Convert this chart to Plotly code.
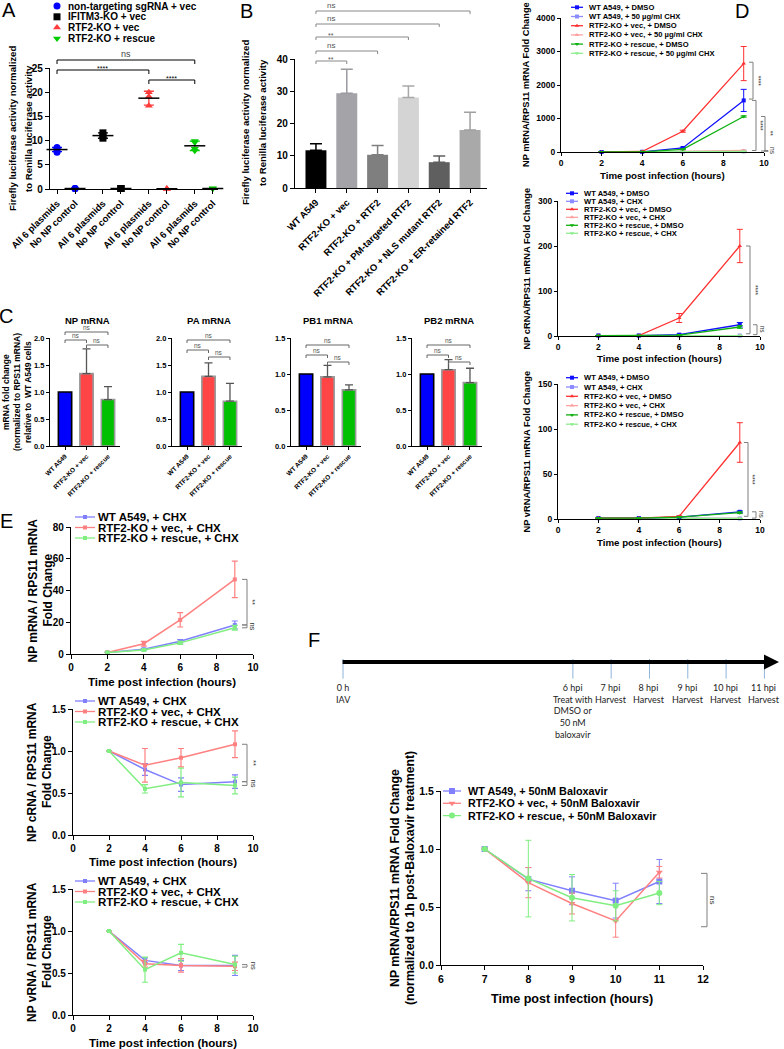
import numpy as np
import plotly.graph_objects as go

W, H = 784, 1049
FONT = "Arial, Liberation Sans, sans-serif"

# ======================= DATA =======================
# ---- Panel A ----
a_groups = ["non-targeting sgRNA + vec", "IFITM3-KO + vec", "RTF2-KO + vec", "RTF2-KO + rescue"]
a_conditions = ["All 6 plasmids", "No NP control"]
a_all6 = [[7.6, 8.1, 8.3, 8.6], [10.5, 11.0, 11.6], [17.2, 19.1, 20.0], [7.9, 8.3, 9.6, 9.9]]
a_nonp = [[0.1, 0.1, 0.1], [0.1, 0.1, 0.1], [0.05, 0.05, 0.05], [0.1, 0.1, 0.1]]
a_sig = [(0, 3, "ns"), (0, 2, "****"), (2, 3, "****")]

# ---- Panel B ----
b_labels = ["WT A549", "RTF2-KO + vec", "RTF2-KO + RTF2", "RTF2-KO + PM-targeted RTF2",
            "RTF2-KO + NLS mutant RTF2", "RTF2-KO + ER-retained RTF2"]
b_means = [11.7, 29.4, 10.3, 28.1, 8.0, 18.0]
b_sd = [2.0, 7.4, 2.9, 3.5, 1.9, 5.5]
b_sig = ["**", "ns", "**", "ns", "ns"]

# ---- Panel C ----
c_titles = ["NP mRNA", "PA mRNA", "PB1 mRNA", "PB2 mRNA"]
c_groups = ["WT A549", "RTF2-KO + vec", "RTF2-KO + rescue"]
c_means = [[1.0, 1.34, 0.86], [1.0, 1.29, 0.83], [1.0, 0.96, 0.78], [1.0, 1.06, 0.88]]
c_sd = [[0, 0.46, 0.24], [0, 0.25, 0.33], [0, 0.16, 0.07], [0, 0.14, 0.20]]
c_ymax = [2.0, 2.0, 1.5, 1.5]
c_sig = ["ns", "ns", "ns"]

# ---- Panel D ----
d_time = [2, 4, 6, 9]
d_legend_top = ["WT A549, + DMSO", "WT A549, + 50 µg/ml CHX", "RTF2-KO + vec, + DMSO",
                "RTF2-KO + vec, + 50 µg/ml CHX", "RTF2-KO + rescue, + DMSO", "RTF2-KO + rescue, + 50 µg/ml CHX"]
d_legend = ["WT A549, + DMSO", "WT A549, + CHX", "RTF2-KO + vec, + DMSO",
            "RTF2-KO + vec, + CHX", "RTF2-KO + rescue, + DMSO", "RTF2-KO + rescue, + CHX"]
d_mrna = [[1, 5, 120, 1540], [1, 2, 8, 20], [1, 15, 620, 2640], [1, 3, 20, 45], [1, 4, 80, 1060], [1, 2, 6, 15]]
d_mrna_err = [[0, 0, 25, 330], [0, 0, 0, 5], [0, 0, 30, 510], [0, 0, 0, 10], [0, 0, 10, 20], [0, 0, 0, 5]]
d_crna = [[1, 1, 3, 25], [1, 1, 1, 1], [1, 1, 40, 200], [1, 1, 1, 1], [1, 1, 2, 20], [1, 1, 1, 1]]
d_crna_err = [[0, 0, 1, 5], [0, 0, 0, 0], [0, 0, 10, 37], [0, 0, 0, 0], [0, 0, 1, 3], [0, 0, 0, 0]]
d_vrna = [[1, 1, 2, 8], [1, 1, 1, 0.6], [1, 1, 3, 85], [1, 1, 1, 0.6], [1, 1, 2, 7], [1, 1, 1, 0.6]]
d_vrna_err = [[0, 0, 0.5, 1], [0, 0, 0, 0], [0, 0, 0.5, 22], [0, 0, 0, 0], [0, 0, 0.5, 1], [0, 0, 0, 0]]
d_ytitles = ["NP mRNA/RPS11 mRNA Fold Change", "NP cRNA/RPS11 mRNA Fold Change", "NP vRNA/RPS11 mRNA Fold Change"]
d_ymax = [4000, 300, 150]
d_dtick = [1000, 100, 50]
d_sig = [[(2680, 1580, "****"), (1540, 45, "****"), (1060, 30, "**"), (45, 10, "ns")],
         [(200, 5, "****"), (25, 3, "ns")],
         [(85, 3, "****"), (8, 1, "ns")]]

# ---- Panel E ----
e_time = [2, 4, 6, 9]
e_legend = ["WT A549, + CHX", "RTF2-KO + vec, + CHX", "RTF2-KO + rescue, + CHX"]
e_mrna = [[1, 3, 8, 18.3], [1, 6.5, 21.5, 47], [1, 2.5, 7, 16.5]]
e_mrna_err = [[0, 0.5, 1, 2.5], [0, 1.5, 4.5, 11.5], [0, 0.5, 1, 1.5]]
e_crna = [[1.0, 0.78, 0.60, 0.635], [1.0, 0.83, 0.92, 1.08], [1.0, 0.55, 0.625, 0.59]]
e_crna_err = [[0, 0.07, 0.08, 0.08], [0, 0.20, 0.11, 0.16], [0, 0.05, 0.17, 0.10]]
e_vrna = [[1.0, 0.65, 0.59, 0.59], [1.0, 0.61, 0.59, 0.58], [1.0, 0.54, 0.74, 0.60]]
e_vrna_err = [[0, 0.03, 0.06, 0.12], [0, 0.04, 0.08, 0.05], [0, 0.15, 0.10, 0.10]]
e_ytitles = ["NP mRNA / RPS11 mRNA", "NP cRNA / RPS11 mRNA", "NP vRNA / RPS11 mRNA"]
e_ymax = [80, 1.5, 1.5]
e_dtick = [20, 0.5, 0.5]
e_sig = [[(47, 18.3, "**"), (18.3, 16.5, "ns")],
         [(1.08, 0.635, "**"), (0.635, 0.59, "ns")],
         [(0.60, 0.57, "ns")]]

# ---- Panel F ----
f_time = [7, 8, 9, 10, 11]
f_legend = ["WT A549, + 50nM Baloxavir", "RTF2-KO + vec, + 50nM Baloxavir", "RTF2-KO + rescue, + 50nM Baloxavir"]
f_vals = [[1.0, 0.74, 0.64, 0.555, 0.72], [1.0, 0.71, 0.53, 0.38, 0.80], [1.0, 0.745, 0.58, 0.51, 0.62]]
f_err = [[0, 0.10, 0.12, 0.15, 0.19], [0, 0.13, 0.09, 0.14, 0.05], [0, 0.33, 0.20, 0.13, 0.10]]
f_sig = [(0.79, 0.33, "ns")]
timeline_hours = [0, 6, 7, 8, 9, 10, 11]
timeline_text = ["0 h<br>IAV", "6 hpi<br>Treat with<br>DMSO or<br>50 nM<br>baloxavir",
                 "7 hpi<br>Harvest", "8 hpi<br>Harvest", "9 hpi<br>Harvest", "10 hpi<br>Harvest", "11 hpi<br>Harvest"]

# ======================= LAYOUT HELPERS =======================
fig = go.Figure()
layout = {}
shapes = []
annotations = []


def P(x):
    return x / W


def Q(y):
    return 1 - y / H


def tf(size, bold=True, color="black"):
    d = dict(family=FONT, size=size, color=color)
    if bold:
        d["weight"] = "bold"
    return d


def add_axes(n, xpx, ypx, xrange, yrange, xkw=None, ykw=None):
    s = "" if n == 1 else str(n)
    base = dict(showline=True, linecolor="black", linewidth=1.3, ticks="outside", ticklen=4,
                tickwidth=1.3, tickcolor="black", showgrid=False, zeroline=False, fixedrange=True,
                automargin=False)
    xa = dict(base, domain=[P(xpx[0]), P(xpx[1])], range=xrange, anchor="y" + s)
    ya = dict(base, domain=[Q(ypx[1]), Q(ypx[0])], range=yrange, anchor="x" + s)
    xa.update(xkw or {})
    ya.update(ykw or {})
    layout["xaxis" + s] = xa
    layout["yaxis" + s] = ya
    return "x" + s, "y" + s


def text(x, y, t, size, bold=True, angle=0, xanchor="center", color="black", family=FONT, yanchor="middle"):
    f = dict(family=family, size=size, color=color)
    if bold:
        f["weight"] = "bold"
    annotations.append(dict(xref="x20", yref="y20", x=x, y=y, text=t, showarrow=False, textangle=angle,
                            xanchor=xanchor, yanchor=yanchor, font=f))


def hbracket(xref, x0, x1, ypx, label, color="black", drop=4, fsize=8, lx=None, lcolor="#333", lift=0):
    y = Q(ypx)
    yd = Q(ypx + drop)
    shapes.append(dict(type="path", xref=xref, yref="paper",
                       path=f"M{x0},{yd}L{x0},{y}L{x1},{y}L{x1},{yd}", line=dict(color=color, width=1)))
    annotations.append(dict(xref=xref, yref="paper", x=(x0 + x1) / 2 if lx is None else lx, y=Q(ypx - lift),
                            yanchor="bottom", text=label, showarrow=False, borderpad=0,
                            font=dict(family=FONT, size=fsize, color=lcolor)))


def vbracket(xpx, yref, y_hi, y_lo, label, color="#808080", arm=4, fsize=7, loff=5):
    x1 = P(xpx)
    x0 = P(xpx - arm)
    shapes.append(dict(type="path", xref="paper", yref=yref,
                       path=f"M{x0},{y_hi}L{x1},{y_hi}L{x1},{y_lo}L{x0},{y_lo}", line=dict(color=color, width=1)))
    annotations.append(dict(xref="paper", yref=yref, x=P(xpx + loff), y=(y_hi + y_lo) / 2, text=label,
                            textangle=90, showarrow=False, xanchor="center", yanchor="middle",
                            font=dict(family=FONT, size=fsize, color="#333")))


def legend_block(xkey, xtext, y0, dy, labels, colors, symbols, fsize, half=None, msize=5):
    for i, (lab, col, sym) in enumerate(zip(labels, colors, symbols)):
        yy = y0 + i * dy
        if half:
            fig.add_trace(go.Scatter(x=[xkey - half, xkey + half], y=[yy, yy], mode="lines",
                                     line=dict(color=col, width=1.3), xaxis="x20", yaxis="y20",
                                     showlegend=False, hoverinfo="skip", cliponaxis=False))
        fig.add_trace(go.Scatter(x=[xkey], y=[yy], mode="markers", marker=dict(symbol=sym, size=msize, color=col),
                                 xaxis="x20", yaxis="y20", showlegend=False, hoverinfo="skip", cliponaxis=False))
        text(xtext, yy, lab, fsize, xanchor="left")


def nz(arr):
    return [v if v > 0 else None for v in arr]


# ======================= PANEL A =======================
a_colors = ["#0000ff", "#000000", "#ff3b3b", "#00cc00"]
a_symbols = ["circle", "square", "triangle-up", "triangle-down"]
a_step = 2.55
a_pos = []
for g in range(len(a_groups)):
    a_pos += [g * a_step, g * a_step + 1]
ax, ay = add_axes(1, (50, 218), (68, 189), [-0.39, 8.94], [0, 25],
                  xkw=dict(tickvals=a_pos, ticktext=a_conditions * len(a_groups), tickangle=-45, tickfont=tf(9.5)),
                  ykw=dict(tickvals=[0, 5, 10, 15, 20, 25], tickfont=tf(10)))
for g in range(len(a_groups)):
    for c, vals in enumerate([a_all6[g], a_nonp[g]]):
        xp = a_pos[2 * g + c]
        fig.add_trace(go.Scatter(x=[xp] * len(vals), y=vals, mode="markers",
                                 marker=dict(symbol=a_symbols[g], size=7, color=a_colors[g]),
                                 xaxis=ax, yaxis=ay, showlegend=False, cliponaxis=False, hoverinfo="skip"))
        m, sd = float(np.mean(vals)), float(np.std(vals, ddof=1))
        fig.add_trace(go.Scatter(x=[xp], y=[m], mode="markers",
                                 marker=dict(symbol="line-ew", size=15, line=dict(color="black", width=1.5)),
                                 error_y=dict(type="data", array=[sd], color=a_colors[g], thickness=1.3, width=5,
                                              visible=sd > 0.05),
                                 xaxis=ax, yaxis=ay, showlegend=False, cliponaxis=False, hoverinfo="skip"))
a_br_y = [60, 70, 80]
for (g0, g1, lab), ypx in zip(a_sig, a_br_y):
    hbracket(ax, a_pos[2 * g0], a_pos[2 * g1], ypx, lab, color="black", drop=4,
             fsize=9 if lab == "ns" else 7, lcolor="#444" if lab == "ns" else "black", lift=0 if lab == "ns" else -3)
legend_block(57, 66, 6, 10.8, a_groups, a_colors, a_symbols, 10, half=None, msize=7)
text(12, 129, "Firefly luciferase activity normalized", 9.6, angle=-90)
text(28, 129, "to Renilla luciferase activity", 9.6, angle=-90)
text(9, 10, "A", 20, bold=False)

# ======================= PANEL B =======================
b_colors = ["#000000", "#a3a3a8", "#7f7f7f", "#d4d4d4", "#5f5f5f", "#a9a9a9"]
b_ecolors = ["#000000", "#9a9aa0", "#7f7f7f", "#a8a8a8", "#5f5f5f", "#a0a0a0"]
bx, by = add_axes(2, (295, 487), (59, 188), [-0.68, 5.55], [0, 40],
                  xkw=dict(tickvals=list(range(len(b_labels))), ticktext=b_labels, tickangle=-45, tickfont=tf(9.5)),
                  ykw=dict(tickvals=[0, 10, 20, 30, 40], tickfont=tf(10)))
for i in range(len(b_labels)):
    fig.add_trace(go.Bar(x=[i], y=[b_means[i]], width=0.68, marker=dict(color=b_colors[i], line=dict(width=0)),
                         error_y=dict(type="data", symmetric=False, array=[b_sd[i]], arrayminus=[0],
                                      color=b_ecolors[i], thickness=1.5, width=6),
                         xaxis=bx, yaxis=by, showlegend=False, hoverinfo="skip"))
b_br_y = [61, 51, 37, 24, 11]
for k, (lab, ypx) in enumerate(zip(b_sig, b_br_y)):
    hbracket(bx, 0, k + 1, ypx, lab, color="#888", drop=3, fsize=8 if lab == "ns" else 7,
             lx=0.5, lcolor="#555", lift=0 if lab == "ns" else -3)
text(245, 123, "Firefly luciferase activity normalized", 9.6, angle=-90)
text(262, 123, "to Renilla luciferase activity", 9.6, angle=-90)
text(246, 11, "B", 20, bold=False)

# ======================= PANEL C =======================
c_colors = ["#0000ff", "#ff4545", "#00c000"]
c_edges = ["#000000", "#9a9a9a", "#9a9a9a"]
c_x0 = [50, 172, 291, 412]
c_top = [338, 338, 338, 338]
c_br = [[332, 340, 345], [340, 350, 357], [345, 355, 362], [345, 355, 362]]
for k in range(4):
    cx, cy = add_axes(6 + k, (c_x0[k], c_x0[k] + 70), (c_top[k], 446), [-0.7, 2.56], [0, c_ymax[k]],
                      xkw=dict(tickvals=[0, 1, 2], ticktext=c_groups, tickangle=-45, tickfont=tf(6.5), ticklen=3),
                      ykw=dict(dtick=0.5, tick0=0, tickformat=".1f", tickfont=tf(7.5), ticklen=3))
    for j in range(3):
        sd = c_sd[k][j]
        fig.add_trace(go.Bar(x=[j], y=[c_means[k][j]], width=0.62,
                             marker=dict(color=c_colors[j], line=dict(color=c_edges[j], width=1.6)),
                             error_y=dict(type="data", symmetric=False, array=[sd], arrayminus=[0],
                                          color="#555", thickness=1.3, width=4, visible=sd > 0),
                             xaxis=cx, yaxis=cy, showlegend=False, hoverinfo="skip"))
    pairs = [(0, 2), (0, 1), (1, 2)]
    for (g0, g1), ypx, lab in zip(pairs, c_br[k], c_sig):
        hbracket(cx, g0, g1, ypx, lab, color="#666", drop=3, fsize=6.5, lcolor="#555")
    text(c_x0[k] + 37, 320, c_titles[k], 9.5)
text(6, 392, "mRNA fold change", 8.5, angle=-90)
text(17, 392, "(normalized to RPS11 mRNA)", 8.5, angle=-90)
text(28, 392, "relative to  WT A549 cells", 8.5, angle=-90)
text(6, 316, "C", 20, bold=False)

# ======================= PANEL D =======================
d_colors = ["#1010ff", "#8c8cff", "#ff3030", "#ffa0a0", "#10b010", "#90ee90"]
d_symbols = ["square", "square", "triangle-up", "triangle-up", "triangle-down", "triangle-down"]
d_xpx = [(561, 764), (558, 760), (558, 760)]
d_ypx = [(18, 152), (201, 336), (384, 519)]
d_data = [(d_mrna, d_mrna_err), (d_crna, d_crna_err), (d_vrna, d_vrna_err)]
d_br_x = [[753, 756, 765, 768], [750, 757], [748, 756]]
d_xtitle_y = [175, 358, 542]
d_leg = [(577, 587, 7.3, 9.2), (572, 582, 193.3, 8.0), (572, 582, 377.7, 9.3)]
for k in range(3):
    dx, dy = add_axes(3 + k, d_xpx[k], d_ypx[k], [0, 10], [0, d_ymax[k]],
                      xkw=dict(tickvals=[0, 2, 4, 6, 8, 10], tickfont=tf(8.5), ticklen=3),
                      ykw=dict(dtick=d_dtick[k], tick0=0, tickfont=tf(8.5), ticklen=3))
    vals, errs = d_data[k]
    for s in [1, 3, 5, 0, 2, 4]:
        fig.add_trace(go.Scatter(x=d_time, y=vals[s], mode="lines+markers",
                                 line=dict(color=d_colors[s], width=1.3),
                                 marker=dict(symbol=d_symbols[s], size=4, color=d_colors[s]),
                                 error_y=dict(type="data", array=nz(errs[s]), color=d_colors[s], thickness=1, width=3),
                                 xaxis=dx, yaxis=dy, showlegend=False, cliponaxis=False, hoverinfo="skip"))
    for (yh, yl, lab), xb in zip(d_sig[k], d_br_x[k]):
        vbracket(xb, dy, yh, yl, lab, color="#7f7f7f", arm=4, fsize=6.5, loff=5)
    cy_mid = (d_ypx[k][0] + d_ypx[k][1]) / 2
    text(526, cy_mid, d_ytitles[k], 9.3, angle=-90)
    text((d_xpx[k][0] + d_xpx[k][1]) / 2, d_xtitle_y[k], "Time post infection (hours)", 9.7)
    lx, ltx, ly0, ldy = d_leg[k]
    legend_block(lx, ltx, ly0, ldy, d_legend_top if k == 0 else d_legend, d_colors, d_symbols, 7.6, half=6, msize=4)
text(742, 11, "D", 20, bold=False)

# ======================= PANEL E =======================
e_colors = ["#8080ff", "#ff8080", "#80ee80"]
e_symbols = ["square", "square", "square"]
e_xpx = [(71, 253), (73, 253), (73, 253)]
e_ypx = [(527, 654), (709, 835), (889, 1015)]
e_data = [(e_mrna, e_mrna_err), (e_crna, e_crna_err), (e_vrna, e_vrna_err)]
e_xtitle_y = [682, 862, 1043]
e_leg_y = [517, 701, 881]
for k in range(3):
    ex, ey = add_axes(10 + k, e_xpx[k], e_ypx[k], [0, 10], [0, e_ymax[k]],
                      xkw=dict(tickvals=[0, 2, 4, 6, 8, 10], tickfont=tf(10)),
                      ykw=dict(dtick=e_dtick[k], tick0=0, tickfont=tf(10),
                               tickformat=".1f" if e_ymax[k] < 5 else None))
    vals, errs = e_data[k]
    for s in range(3):
        fig.add_trace(go.Scatter(x=e_time, y=vals[s], mode="lines+markers",
                                 line=dict(color=e_colors[s], width=1.5),
                                 marker=dict(symbol=e_symbols[s], size=4, color=e_colors[s]),
                                 error_y=dict(type="data", array=nz(errs[s]), color=e_colors[s], thickness=1.2, width=3),
                                 xaxis=ex, yaxis=ey, showlegend=False, cliponaxis=False, hoverinfo="skip"))
    for (yh, yl, lab) in e_sig[k]:
        vbracket(247, ey, yh, yl, lab, color="#7f7f7f", arm=5, fsize=7.5, loff=6)
    cy_mid = (e_ypx[k][0] + e_ypx[k][1]) / 2
    text(32, cy_mid, e_ytitles[k], 12, angle=-90)
    text(47, cy_mid, "Fold Change", 12, angle=-90)
    text((e_xpx[k][0] + e_xpx[k][1]) / 2, e_xtitle_y[k], "Time post infection (hours)", 11.5)
    legend_block(85, 96, e_leg_y[k], 10.5, e_legend, e_colors, e_symbols, 11.5, half=10, msize=4)
text(6, 521, "E", 20, bold=False)

# ======================= PANEL F =======================
f_colors = ["#8080ff", "#ff8080", "#80ee80"]
f_symbols = ["square", "triangle-down", "circle"]
fx, fy = add_axes(13, (441, 703), (791, 965), [6, 12], [0, 1.5],
                  xkw=dict(tickvals=[6, 7, 8, 9, 10, 11, 12], tickfont=tf(10.5)),
                  ykw=dict(dtick=0.5, tick0=0, tickformat=".1f", tickfont=tf(10.5)))
for s in range(3):
    fig.add_trace(go.Scatter(x=f_time, y=f_vals[s], mode="lines+markers",
                             line=dict(color=f_colors[s], width=1.5),
                             marker=dict(symbol=f_symbols[s], size=6, color=f_colors[s]),
                             error_y=dict(type="data", array=nz(f_err[s]), color=f_colors[s], thickness=1, width=3),
                             xaxis=fx, yaxis=fy, showlegend=False, cliponaxis=False, hoverinfo="skip"))
for (yh, yl, lab) in f_sig:
    vbracket(707, fy, yh, yl, lab, color="#7f7f7f", arm=6, fsize=8, loff=6)
legend_block(452, 466, 791, 12.3, f_legend, f_colors, f_symbols, 10.8, half=9, msize=6)
text(395, 878, "NP mRNA/RPS11 mRNA Fold Change", 12.3, angle=-90)
text(410, 878, "(normalized to 1h post-Baloxavir treatment)", 12.3, angle=-90)
text(572, 999, "Time post infection (hours)", 12.6)
text(314, 640, "F", 20, bold=False)

# ---- timeline (schematic axis: hours -> position) ----
tl_scale = 38.31
tl_origin = 343
layout["xaxis14"] = dict(domain=[0, 1], range=[-tl_origin / tl_scale, (W - tl_origin) / tl_scale],
                         visible=False, anchor="y14", fixedrange=True, automargin=False)
layout["yaxis14"] = dict(domain=[Q(700), Q(640)], range=[0, 1], visible=False, anchor="x14", fixedrange=True,
                         automargin=False)
fig.add_trace(go.Scatter(x=timeline_hours, y=[0.52] * len(timeline_hours), mode="markers",
                         marker=dict(symbol="line-ns", size=14, line=dict(color="#8fb4dc", width=1)),
                         xaxis="x14", yaxis="y14", showlegend=False, hoverinfo="skip", cliponaxis=False))
annotations.append(dict(xref="x14", yref="paper", x=11.38, y=Q(662), ax=-0.05, ay=0, axref="x14", ayref="pixel",
                        text="", showarrow=True, arrowhead=2, arrowsize=0.75, arrowwidth=4, arrowcolor="black",
                        standoff=0, startstandoff=0))
for hh, tt in zip(timeline_hours, timeline_text):
    annotations.append(dict(xref="x14", yref="paper", x=hh, y=Q(680), text=tt, showarrow=False,
                            xanchor="center", yanchor="top", align="center",
                            font=dict(family="Lato, Carlito, sans-serif", size=9, color="#222")))

# ---- pixel overlay axis for legends and labels ----
layout["xaxis20"] = dict(domain=[0, 1], range=[0, W], visible=False, anchor="y20", fixedrange=True, automargin=False)
layout["yaxis20"] = dict(domain=[0, 1], range=[H, 0], visible=False, anchor="x20", fixedrange=True, automargin=False)

fig.update_layout(template="none", width=W, height=H, autosize=False,
                  margin=dict(l=0, r=0, t=0, b=0, pad=0, autoexpand=False),
                  paper_bgcolor="white", plot_bgcolor="rgba(0,0,0,0)", showlegend=False, barmode="overlay",
                  font=dict(family=FONT, color="black"), shapes=shapes, annotations=annotations, **layout)
fig.write_html("out.html", include_plotlyjs=True, config={"displayModeBar": False},
               post_script="document.body.style.margin='0px';")
